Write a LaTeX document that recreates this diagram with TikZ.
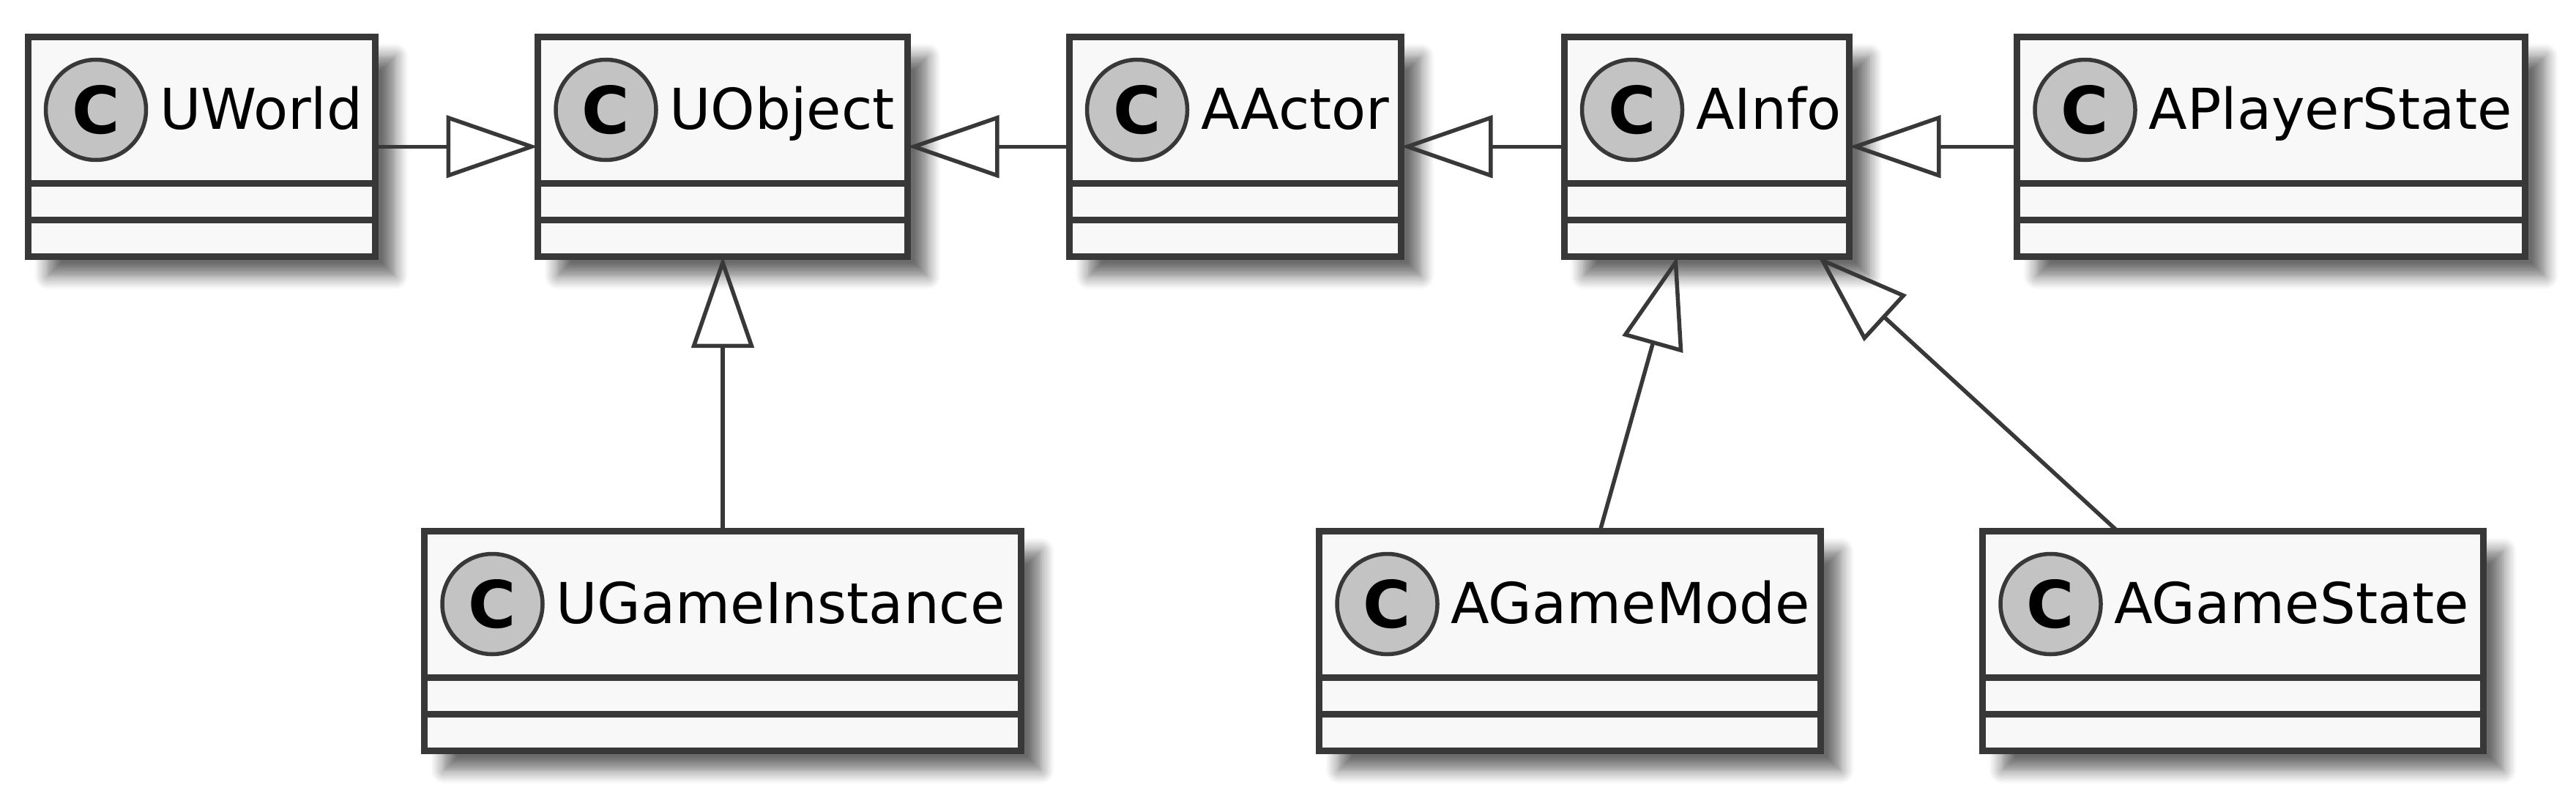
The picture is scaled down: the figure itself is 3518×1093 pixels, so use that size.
\documentclass[tikz,border=0pt]{standalone}
\usepackage{fontspec}
\newfontfamily\umlfont{DejaVu Sans}
\usetikzlibrary{arrows.meta,fit,shadows.blur}
\definecolor{umlline}{HTML}{383838}
\definecolor{umlfill}{HTML}{F8F8F8}
\definecolor{umlicon}{HTML}{C3C3C3}
\tikzset
{
    classbox/.style  = {rectangle, draw=umlline, fill=umlfill, line width=1.8pt, inner sep=0pt, outer sep=0pt,
                        blur shadow={shadow xshift=5.4pt, shadow yshift=-5.4pt, shadow blur radius=3.6pt, shadow blur steps=8, shadow opacity=58}},
    classicon/.style = {circle, draw=umlline, fill=umlicon, line width=1.1pt, minimum size=27.4pt, inner sep=0pt,
                        font=\umlfont\fontsize{17.8}{20}\bfseries},
    classname/.style = {anchor=base west, inner sep=0pt, font=\umlfont\fontsize{15.4}{18}\selectfont},
    classrule/.style = {draw=umlline, line width=1.8pt},
    extends/.style   = {draw=umlline, line width=1.1pt, -{Triangle[open, length=25pt, width=17pt]}}
}
\begin{document}
\begin{tikzpicture}[x=0.2pt, y=0.2pt]
   \useasboundingbox (0,0) rectangle (3518,-1093);

   % top row
   \node (uworld)        [classbox, fit={(38,-50.5) (512.5,-350)}]       {};
   \node (uobject)       [classbox, fit={(734.5,-50.5) (1239.5,-350)}]   {};
   \node (aactor)        [classbox, fit={(1460,-50.5) (1913.5,-350)}]    {};
   \node (ainfo)         [classbox, fit={(2136,-50.5) (2525.5,-350)}]    {};
   \node (aplayerstate)  [classbox, fit={(2754.5,-50.5) (3448.5,-350)}]  {};
   % bottom row
   \node (ugameinstance) [classbox, fit={(579.5,-725.5) (1394.5,-1025)}] {};
   \node (agamemode)     [classbox, fit={(1801.5,-725.5) (2486.5,-1025)}] {};
   \node (agamestate)    [classbox, fit={(2707.5,-725.5) (3391.5,-1025)}] {};

   \foreach \c/\t in {uworld/UWorld, uobject/UObject, aactor/AActor, ainfo/AInfo, aplayerstate/APlayerState,
                      ugameinstance/UGameInstance, agamemode/AGameMode, agamestate/AGameState}
   {
      \node (\c-icon) [classicon] at ([shift={(93,-99.5)}]\c.north west)  {C};
      \node (\c-name) [classname] at ([shift={(179,-125.5)}]\c.north west) {\t};
      \draw[classrule] ([shift={(0,-200)}]\c.north west) -- ([shift={(0,-200)}]\c.north east);
      \draw[classrule] ([shift={(0,-250)}]\c.north west) -- ([shift={(0,-250)}]\c.north east);
   }

   \path
      (uworld)        edge[extends] (uobject)
      (aactor)        edge[extends] (uobject)
      (ainfo)         edge[extends] (aactor)
      (aplayerstate)  edge[extends] (ainfo)
      (ugameinstance) edge[extends] (uobject)
      ([shift={(41,0)}]agamemode.north)     edge[extends] ([shift={(-40,0)}]ainfo.south)
      ([shift={(-157.5,0)}]agamestate.north) edge[extends] ([shift={(152,0)}]ainfo.south);
\end{tikzpicture}
\end{document}
